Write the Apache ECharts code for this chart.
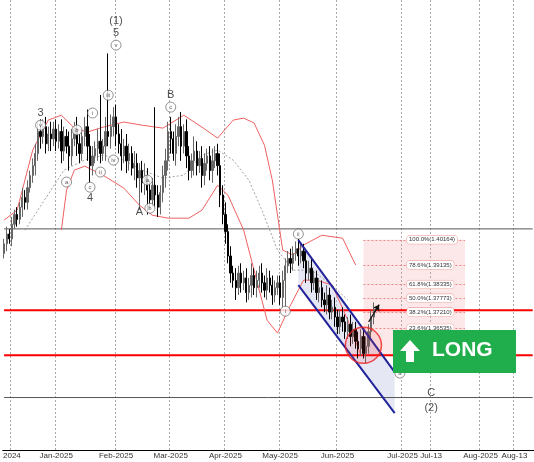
<!DOCTYPE html>
<html><head><meta charset="utf-8">
<script src="https://cdn.jsdelivr.net/npm/echarts@6/dist/echarts.min.js"></script>
<style>html,body{margin:0;background:#fff}#c{width:534px;height:462px}</style>
</head><body><div id="c"></div>
<script>
// daily closes, Dec-2024 .. 20-Jun-2025
var closes = [
  1.400,1.404,1.402,1.408,1.412,1.410,1.415,1.419,1.417,1.423,1.428,1.432,1.437,1.446,1.444,1.448,1.441,1.445,1.443,1.447,
  1.442,1.446,1.438,1.444,1.440,1.436,1.443,1.447,1.441,1.437,1.444,1.448,1.440,1.432,1.436,1.439,1.442,1.437,1.440,1.446,1.444,1.448,1.452,
  1.445,1.441,1.436,1.440,1.434,1.437,1.431,1.433,1.427,1.430,1.425,1.428,1.422,1.418,1.424,1.420,1.415,1.421,1.428,1.434,
  1.446,1.443,1.437,1.444,1.448,1.440,1.446,1.436,1.430,1.434,1.438,1.432,1.435,1.428,1.433,1.436,1.430,1.434,1.437,1.432,1.420,
  1.412,1.405,1.395,1.388,1.385,1.382,1.388,1.384,1.386,1.380,1.383,1.387,1.382,1.385,1.388,1.384,1.381,1.386,1.383,1.379,1.382,1.384,
  1.378,1.385,1.391,1.394,1.392,1.396,1.398,1.395,1.397,1.393,1.388,1.390,1.384,1.386,1.380,1.382,1.377,1.375,1.379,1.372,1.374,1.370,
  1.366,1.370,1.368,1.364,1.367,1.362,1.365,1.360,1.357,1.362,1.355,1.358,1.364,1.370,1.373
];
// wick length beyond body, in 0.001
var wicks = [
  2,3,2,3,2,3,2,4,3,3,2,3,4,3,5,3,4,3,5,3,
  4,3,5,4,3,6,4,3,5,4,3,4,6,5,4,3,5,4,3,6,4,5,4,
  5,4,6,3,5,4,3,5,4,3,4,5,3,4,3,5,4,3,4,5,
  4,6,3,5,4,6,3,5,4,3,6,4,3,5,4,3,4,5,3,4,5,
  4,5,3,4,3,5,3,4,3,4,3,5,3,4,3,4,3,4,3,4,3,3,
  3,4,3,3,4,3,3,4,3,3,4,3,4,3,3,4,3,3,4,3,3,4,
  3,3,4,3,3,4,3,3,4,3,3,4,3,3,3
];
var highOverride = {13:1.450, 32:1.455, 37:1.461, 40:1.478, 58:1.456, 113:1.402};
var lowOverride = {33:1.425, 52:1.414, 55:1.412, 108:1.374, 138:1.353};

var upperBand = [[0,1.4097],[5,1.4138],[11,1.4384],[17,1.4507],[22,1.4527],[27,1.4474],[32,1.4458],[38,1.4478],[46,1.4499],[53,1.4486],[61,1.4474],[69,1.4527],[76,1.4478],[82,1.4433],[88,1.4507],[92,1.4515],[96,1.4495],[100,1.4404],[103,1.4261],[107,1.3974],[111,1.3954],[115,1.3995],[122,1.4035],[130,1.4023],[135,1.3913]];
var lowerBand = [[22,1.4056],[24,1.4220],[27,1.4302],[31,1.4318],[38,1.4281],[46,1.4228],[52,1.4158],[57,1.4117],[63,1.4105],[71,1.4105],[76,1.4138],[82,1.4240],[86,1.4199],[92,1.4056],[97,1.3851],[101,1.3687],[105,1.3634],[109,1.3728],[115,1.3851],[120,1.3851],[126,1.3831],[132,1.3687],[137,1.3543]];
var midBand = [[8,1.4056],[23,1.4302],[31,1.4343],[38,1.4363],[46,1.4343],[53,1.4302],[61,1.4269],[69,1.4281],[76,1.4363],[82,1.4384],[88,1.4343],[94,1.4261],[99,1.4138],[105,1.3974],[111,1.3892],[118,1.3892],[126,1.3831],[132,1.3769]];

var tickIdx = [3,20,43,64,85,106,128,153,164,183,196];
var tickText = ['2024','Jan-2025','Feb-2025','Mar-2025','Apr-2025','May-2025','Jun-2025','Jul-2025','Jul-13','Aug-2025','Aug-13'];

var fibLevels = [1.40164,1.39135,1.38335,1.37773,1.37210,1.36535];
var fibText = ['100.0%(1.40164)','78.6%(1.39135)','61.8%(1.38335)','50.0%(1.37773)','38.2%(1.37210)','23.6%(1.36535)'];
var redLevels = [1.3728, 1.3543];
var blackLevels = [1.4061, 1.3370];
var channelUpper = [[113,1.4015],[150,1.3474]];
var channelLower = [[113,1.3831],[150,1.3306]];

var circled = [[14,1.4486,'v'],[43,1.4814,'v'],[40,1.4609,'iii'],[34,1.4536,'i'],[28,1.4466,'b'],[33,1.4232,'c'],[24,1.4253,'a'],
  [42,1.4343,'iv'],[37,1.4294,'ii'],[55,1.4261,'a'],[56,1.4146,'b'],[64,1.4560,'c'],[113,1.4040,'ii'],[108,1.3724,'i'],[152,1.3470,'a']];
var waveText = [[14,1.4536,'3'],[43,1.4913,'(1)'],[43,1.4864,'5'],[33,1.4187,'4'],[52,1.4130,'A'],[64,1.4609,'B'],[164,1.3388,'C'],[164,1.3326,'(2)']];

var N = 204;
var cats = [];
for (var i = 0; i < N; i++) cats.push(String(i));
var ohlc = closes.map(function (c, i) {
  var o = i === 0 ? 1.396 : closes[i - 1];
  var w = wicks[i] * 0.001;
  var h = highOverride[i] || Math.max(o, c) + w;
  var l = lowOverride[i] || Math.min(o, c) - w;
  return [o, c, l, h];
});

function hLine(v, col, wid) {
  return { type: 'line', data: [[0, v], [N - 1, v]], showSymbol: false, silent: true, z: 2,
           lineStyle: { color: col, width: wid } };
}

var chart = echarts.init(document.getElementById('c'));
var series = [
  { type: 'custom', z: 1, silent: true,
    renderItem: function (p, api) {
      var pts = [channelUpper[0], channelUpper[1], channelLower[1], channelLower[0]].map(function (d) { return api.coord(d); });
      return { type: 'polygon', shape: { points: pts }, style: { fill: 'rgba(190,195,230,0.4)' } };
    }, data: [0] },
  { type: 'custom', z: 1, silent: true,
    renderItem: function (p, api) {
      var a = api.coord([138, fibLevels[0]]), b = api.coord([177, 1.3543]);
      return { type: 'rect', shape: { x: a[0], y: a[1], width: b[0] - a[0], height: b[1] - a[1] }, style: { fill: 'rgba(240,150,150,0.22)' } };
    }, data: [0] },
  hLine(redLevels[0], '#f00', 2), hLine(redLevels[1], '#f00', 2),
  hLine(blackLevels[0], '#555', 1), hLine(blackLevels[1], '#555', 1),
  { type: 'line', data: [], z: 3,
    markLine: { symbol: 'none', silent: true,
      data: fibLevels.map(function (v, i) {
        return [{ coord: [138, v], lineStyle: { color: '#e88', type: [2, 2], width: 1 },
                  label: { show: true, position: 'end', distance: -58, formatter: fibText[i], fontSize: 6, color: '#333',
                    backgroundColor: '#fff', borderColor: '#e99', borderWidth: 0.5, borderRadius: 2, padding: [1, 2] } },
                { coord: [177, v] }];
      }) } },
  { type: 'line', data: upperBand, showSymbol: false, lineStyle: { color: '#f06060', width: 1 }, z: 4 },
  { type: 'line', data: lowerBand, showSymbol: false, lineStyle: { color: '#f06060', width: 1 }, z: 4 },
  { type: 'line', data: midBand, showSymbol: false, lineStyle: { color: '#888', width: 0.8, type: [2, 2] }, z: 4 },
  { type: 'line', data: channelUpper, showSymbol: false, lineStyle: { color: '#22229a', width: 2 }, z: 6 },
  { type: 'line', data: channelLower, showSymbol: false, lineStyle: { color: '#22229a', width: 2 }, z: 6 },
  { type: 'candlestick', data: ohlc, barWidth: 1.8, z: 5,
    itemStyle: { color: '#666', color0: '#000', borderColor: '#666', borderColor0: '#000', borderWidth: 1 } },
  { type: 'scatter', data: [[138, 1.3584]], symbolSize: 36, z: 7,
    itemStyle: { color: 'rgba(255,60,60,0.15)', borderColor: '#e22', borderWidth: 1.5 } },
  { type: 'line', data: [[140, 1.3680], [144, 1.3750]], showSymbol: false, z: 7,
    lineStyle: { color: '#111', width: 1.2 },
    markLine: { symbol: ['none', 'arrow'], symbolSize: 6, silent: true, label: { show: false },
      lineStyle: { color: '#111', width: 1.2, type: 'solid' },
      data: [[{ coord: [142, 1.3715] }, { coord: [144, 1.3750] }]] } },
  { type: 'scatter', data: circled, symbol: 'circle', symbolSize: 10, z: 8,
    itemStyle: { color: '#fff', borderColor: '#555', borderWidth: 0.8 },
    label: { show: true, position: 'inside', formatter: function (p) { return p.value[2]; }, fontSize: 6, color: '#333' } },
  { type: 'scatter', data: waveText, symbolSize: 0, z: 8,
    label: { show: true, position: 'inside', formatter: function (p) { return p.value[2]; }, fontSize: 11, color: '#222', fontFamily: 'Arial' } }
];

chart.setOption({
  animation: false,
  grid: { left: 0, right: 0, top: 0, bottom: 12 },
  xAxis: {
    type: 'category', data: cats, boundaryGap: true,
    axisLine: { lineStyle: { color: '#000' } },
    axisTick: { show: false },
    axisLabel: {
      interval: function (i) { return tickIdx.indexOf(i) >= 0; },
      formatter: function (v) { return tickText[tickIdx.indexOf(+v)]; },
      fontSize: 8, color: '#333', margin: 2, fontFamily: 'Arial'
    },
    splitLine: { show: true, interval: function (i) { return tickIdx.indexOf(i) >= 0; }, lineStyle: { color: '#aaa', type: [2, 2] } }
  },
  yAxis: { type: 'value', min: 1.3155, max: 1.4999, show: false, splitLine: { show: false } },
  series: series,
  graphic: [
    { type: 'rect', left: 393, top: 330, shape: { width: 123, height: 43 }, style: { fill: '#1fae4b' }, z: 100 },
    { type: 'polygon', shape: { points: [[410, 340], [400, 351], [406, 351], [406, 362], [414, 362], [414, 351], [420, 351]] }, style: { fill: '#fff' }, z: 101 },
    { type: 'text', left: 432, top: 340, style: { text: 'LONG', fill: '#fff', font: 'bold 21px Arial' }, z: 101 }
  ]
});
</script></body></html>
